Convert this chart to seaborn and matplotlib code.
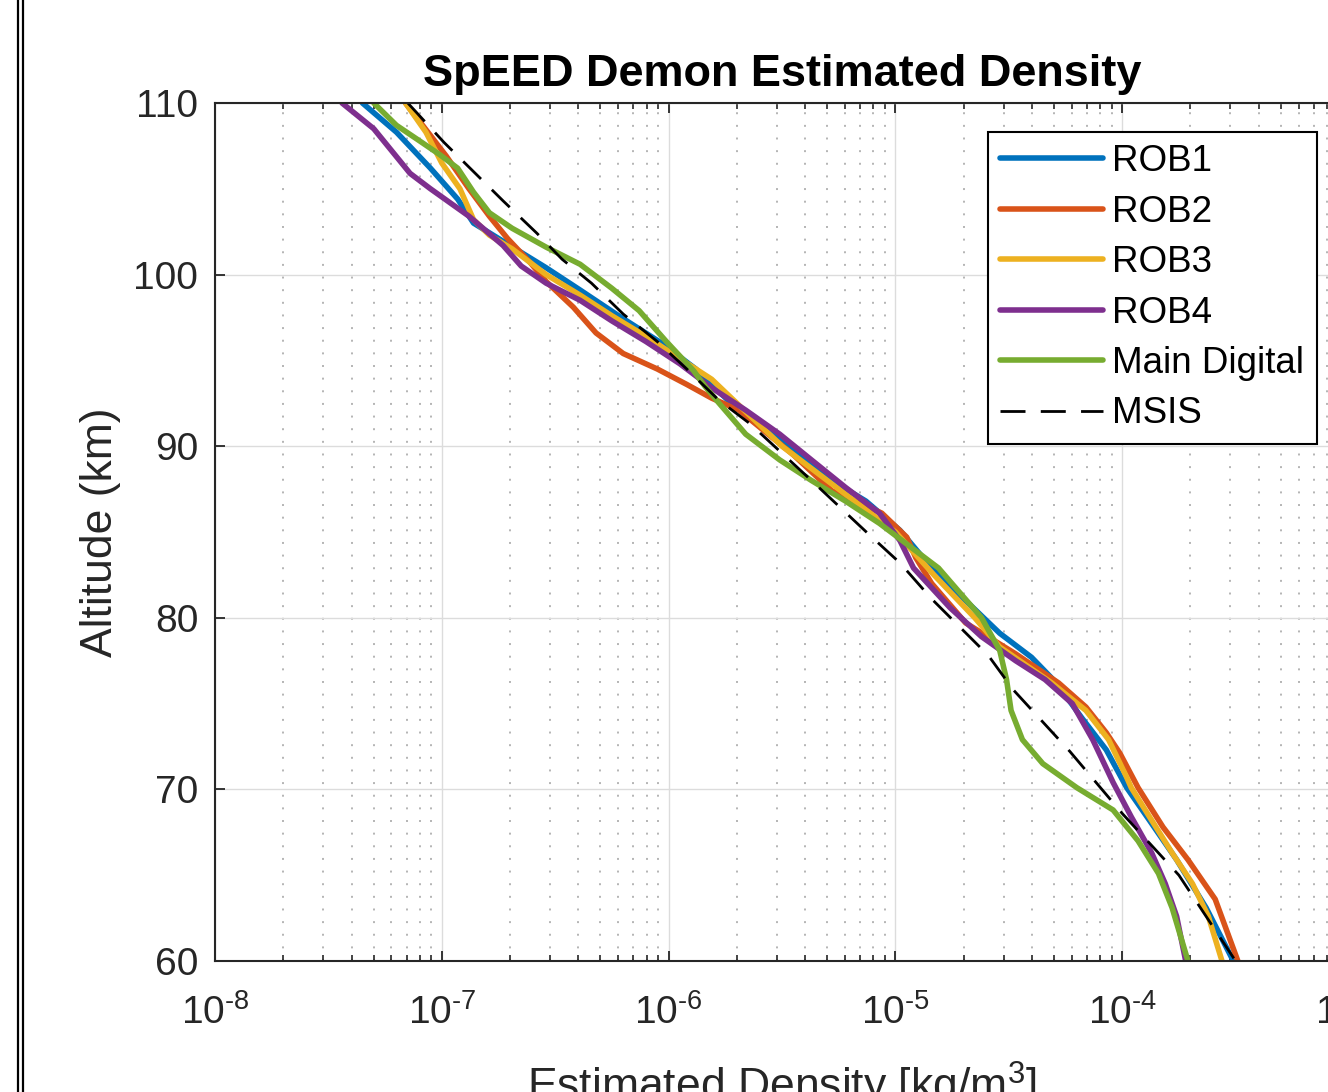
import numpy as np
import pandas as pd
import matplotlib
matplotlib.use("Agg")
import matplotlib.pyplot as plt
from matplotlib.lines import Line2D
from matplotlib.ticker import LogLocator, FixedLocator
import seaborn as sns

# --- data: altitude (km) and log10 density (kg/m^3) ---
alt_rob1 = [110, 108.3, 106.2, 104.4, 103.0, 100.4, 99.1, 97.6, 96.0, 94.5, 92.7, 91.1, 90.4,
            88.0, 86.8, 85.1, 82.9, 81.0, 79.1, 77.7, 76.2, 74.2, 72.3, 70.1, 68.2, 65.9, 63.1, 60]
log_rob1 = [-7.35, -7.20, -7.05, -6.93, -6.86, -6.54, -6.39, -6.22, -6.03, -5.88, -5.74, -5.57, -5.50,
            -5.28, -5.13, -4.98, -4.84, -4.69, -4.54, -4.40, -4.29, -4.18, -4.07, -3.98, -3.88, -3.76, -3.63, -3.51]

alt_rob2 = [110, 106.9, 105.0, 103.4, 102.1, 100.7, 99.6, 98.1, 96.6, 95.4, 94.5, 93.6, 92.8, 92.1,
            89.5, 87.4, 86.1, 84.7, 83.5, 82.0, 79.7, 77.9, 76.2, 74.8, 73.3, 72.1, 70.1, 67.8, 65.9, 63.6, 60]
log_rob2 = [-7.16, -6.98, -6.88, -6.79, -6.71, -6.61, -6.54, -6.42, -6.32, -6.20, -6.05, -5.92, -5.81, -5.69,
            -5.45, -5.28, -5.06, -4.95, -4.91, -4.84, -4.69, -4.47, -4.28, -4.16, -4.07, -4.01, -3.93, -3.82, -3.71, -3.59, -3.49]

alt_rob3 = [110, 108.3, 106.5, 105.0, 103.2, 102.3, 101.5, 100.0, 98.8, 97.6, 96.4, 95.1, 93.9,
            90.0, 87.5, 85.0, 82.5, 80.0, 78.3, 76.2, 74.6, 72.9, 70.7, 70.1, 68.2, 66.3, 64.5, 62.6, 60]
log_rob3 = [-7.16, -7.07, -7.00, -6.92, -6.86, -6.79, -6.69, -6.54, -6.39, -6.25, -6.10, -5.95, -5.81,
            -5.50, -5.25, -5.00, -4.83, -4.65, -4.54, -4.31, -4.16, -4.06, -3.98, -3.96, -3.87, -3.78, -3.69, -3.62, -3.56]

alt_rob4 = [110, 108.5, 105.9, 105.0, 103.4, 101.7, 100.5, 99.5, 98.5, 97.3, 96.1, 94.8, 93.4, 92.1,
            90.7, 89.2, 87.6, 86.1, 84.5, 82.9, 80.6, 78.9, 77.5, 76.4, 75.0, 72.9, 70.4, 68.4, 66.3, 64.5, 62.6, 60]
log_rob4 = [-7.44, -7.30, -7.14, -7.05, -6.88, -6.73, -6.65, -6.54, -6.39, -6.25, -6.10, -5.95, -5.81, -5.66,
            -5.51, -5.37, -5.22, -5.07, -4.98, -4.92, -4.76, -4.62, -4.47, -4.34, -4.22, -4.13, -4.04, -3.96, -3.87, -3.81, -3.76, -3.72]

alt_main = [110, 108.7, 107.9, 107.0, 106.2, 104.8, 103.6, 102.7, 101.6, 100.6, 99.2, 97.9, 96.1, 94.4,
            93.5, 92.7, 90.7, 89.2, 88.0, 86.8, 85.5, 84.1, 82.9, 80.0, 78.1, 76.4, 74.6, 72.9, 71.5,
            70.1, 68.8, 67.0, 65.1, 63.1, 60]
log_main = [-7.30, -7.20, -7.11, -7.01, -6.93, -6.86, -6.79, -6.69, -6.54, -6.39, -6.25, -6.13, -6.01, -5.89,
            -5.84, -5.79, -5.66, -5.51, -5.37, -5.22, -5.07, -4.93, -4.81, -4.62, -4.54, -4.51, -4.49, -4.44, -4.35,
            -4.20, -4.04, -3.93, -3.84, -3.78, -3.71]

alt_msis = [110, 107.7, 104.3, 102.4, 100.9, 99.5, 97.7, 96.1, 94.5, 92.7, 91.3, 88.0, 84.9, 83.2,
            81.1, 77.8, 75.8, 72.2, 68.6, 65.0, 60]
log_msis = [-7.15, -6.99, -6.73, -6.58, -6.47, -6.34, -6.20, -6.05, -5.92, -5.78, -5.64, -5.37, -5.12, -4.98,
            -4.84, -4.59, -4.48, -4.23, -4.00, -3.75, -3.50]

series_names = ["ROB1", "ROB2", "ROB3", "ROB4", "Main Digital"]
series_alts = [alt_rob1, alt_rob2, alt_rob3, alt_rob4, alt_main]
series_logs = [log_rob1, log_rob2, log_rob3, log_rob4, log_main]
series_colors = ["#0072BD", "#D95319", "#EDB120", "#7E2F8E", "#77AC30"]

x_ticks = [1e-8, 1e-7, 1e-6, 1e-5, 1e-4, 1e-3]
x_tick_labels = [r"$10^{\text{-8}}$", r"$10^{\text{-7}}$", r"$10^{\text{-6}}$",
                 r"$10^{\text{-5}}$", r"$10^{\text{-4}}$", r"$10^{\text{-3}}$"]
y_ticks = [60, 70, 80, 90, 100, 110]

# long table for seaborn
frames = []
for name, alts, logs in zip(series_names, series_alts, series_logs):
    frames.append(pd.DataFrame({"Source": name, "Altitude": alts, "Density": 10 ** np.array(logs)}))
df = pd.concat(frames, ignore_index=True)
df_msis = pd.DataFrame({"Altitude": alt_msis, "Density": 10 ** np.array(log_msis)})

sns.set_theme(style="ticks")
plt.rcParams["font.family"] = ["Liberation Sans", "DejaVu Sans"]
plt.rcParams["mathtext.fontset"] = "custom"
plt.rcParams["mathtext.rm"] = "Liberation Sans"
plt.rcParams["mathtext.it"] = "Liberation Sans:italic"
plt.rcParams["mathtext.bf"] = "Liberation Sans:bold"

W, H = 1328, 1092
fig = plt.figure(figsize=(W / 100, H / 100), dpi=100)
fig.patch.set_facecolor("white")
# axes run past the right edge like the cropped reference
ax = fig.add_axes([215 / W, 1 - 961 / H, (1349 - 215) / W, (961 - 103) / H])

sns.lineplot(data=df, x="Density", y="Altitude", hue="Source", hue_order=series_names,
             palette=series_colors, sort=False, estimator=None, lw=4.0, ax=ax, legend=False)
sns.lineplot(data=df_msis, x="Density", y="Altitude", sort=False, estimator=None,
             color="black", lw=2.0, ax=ax, legend=False)
ax.lines[-1].set_dashes((9, 5.5))
for ln in ax.lines:
    ln.set_solid_joinstyle("round")
    ln.set_solid_capstyle("round")

ax.set_xscale("log")
ax.set_xlim(1e-8, 1e-3)
ax.set_ylim(60, 110)
ax.xaxis.set_major_locator(FixedLocator(x_ticks))
ax.set_xticklabels(x_tick_labels)
ax.xaxis.set_minor_locator(LogLocator(base=10, subs=np.arange(2, 10), numticks=20))
ax.set_yticks(y_ticks)

axis_col = "#262626"
for sp in ax.spines.values():
    sp.set_color(axis_col)
    sp.set_linewidth(1.5)
ax.tick_params(axis="both", which="both", direction="in", top=True, right=True,
               colors=axis_col, labelcolor=axis_col)
ax.tick_params(axis="both", which="major", length=7, width=1.3, labelsize=28)
ax.tick_params(axis="x", which="major", pad=24)
ax.tick_params(axis="y", which="major", pad=12)
ax.tick_params(axis="x", which="minor", length=4, width=1.2)

ax.grid(True, which="major", axis="both", color="#dcdcdc", lw=1.0)
ax.grid(True, which="minor", axis="x", color="#b4b4b4", lw=1.4, linestyle=(0, (1, 5.5)))
ax.set_axisbelow(True)

ax.set_title("SpEED Demon Estimated Density", fontsize=32.5, fontweight="bold", color="black", pad=12)
ax.set_xlabel("Estimated Density [kg/m$^3$]", fontsize=32, color=axis_col)
ax.xaxis.set_label_coords(0.5, -0.115)
ax.set_ylabel("Altitude (km)", fontsize=32, color=axis_col)
ax.yaxis.set_label_coords(-0.083, 0.5)

handles = list(ax.lines)
labels = series_names + ["MSIS"]
leg = ax.legend(handles, labels, loc="upper left", bbox_to_anchor=(988 / W, 1 - 132 / H),
                bbox_transform=fig.transFigure, borderaxespad=0, fontsize=26.5,
                handlelength=2.8, handletextpad=0.25, labelspacing=0.42, borderpad=0.33,
                fancybox=False, framealpha=1, edgecolor="black")
leg.get_frame().set_linewidth(1.5)
for t in leg.get_texts():
    t.set_color("black")

# double frame line on the left edge
for xpx in (18, 23):
    fig.add_artist(Line2D([xpx / W, xpx / W], [0, 1], transform=fig.transFigure,
                          color="black", lw=1.6))

fig.savefig("out.png", dpi=100)
